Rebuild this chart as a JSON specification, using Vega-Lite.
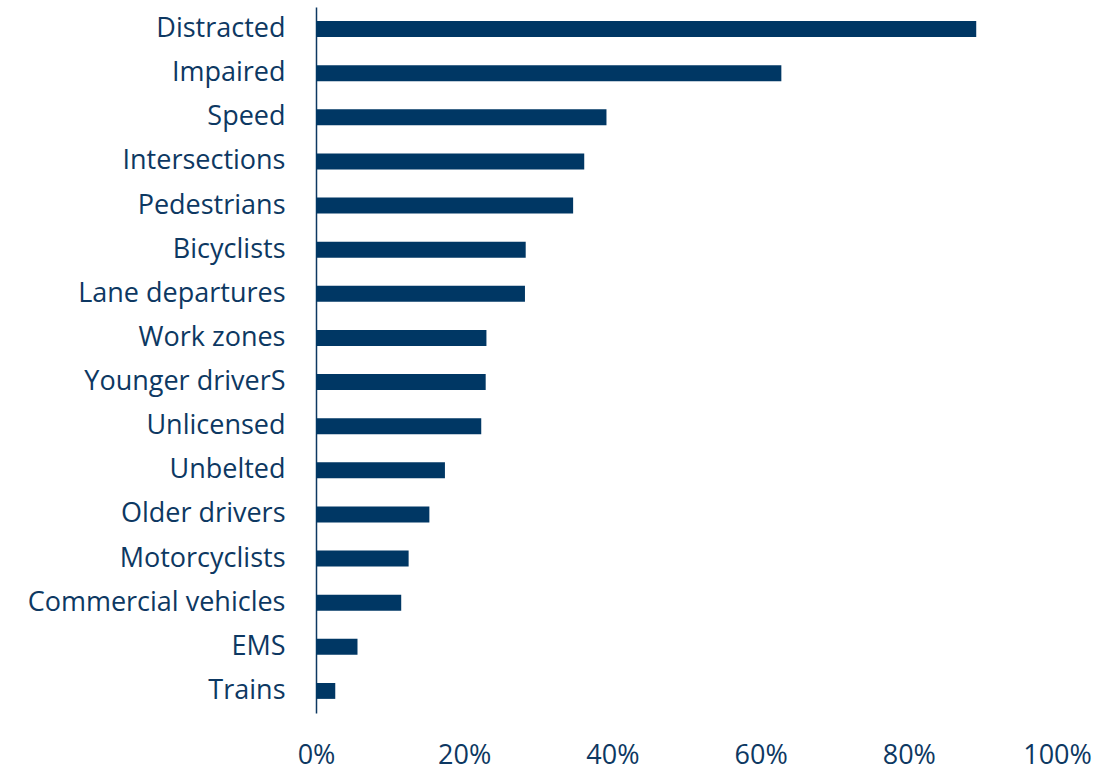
{
  "$schema": "https://vega.github.io/schema/vega-lite/v6.json",
  "width": 741,
  "height": 706,
  "autosize": {"type": "none"},
  "padding": {"left": 316, "top": 7, "right": 60, "bottom": 57},
  "background": "white",
  "config": {"view": {"stroke": null}},
  "data": {
    "values": [
      {"category": "Distracted", "share": 0.891},
      {"category": "Impaired", "share": 0.628},
      {"category": "Speed", "share": 0.392},
      {"category": "Intersections", "share": 0.362},
      {"category": "Pedestrians", "share": 0.347},
      {"category": "Bicyclists", "share": 0.283},
      {"category": "Lane departures", "share": 0.282},
      {"category": "Work zones", "share": 0.230},
      {"category": "Younger driverS", "share": 0.229},
      {"category": "Unlicensed", "share": 0.223},
      {"category": "Unbelted", "share": 0.174},
      {"category": "Older drivers", "share": 0.153},
      {"category": "Motorcyclists", "share": 0.125},
      {"category": "Commercial vehicles", "share": 0.115},
      {"category": "EMS", "share": 0.056},
      {"category": "Trains", "share": 0.026}
    ]
  },
  "mark": {"type": "bar", "color": "#003764"},
  "encoding": {
    "y": {
      "field": "category",
      "type": "nominal",
      "sort": null,
      "scale": {"paddingInner": 0.64, "paddingOuter": 0.32},
      "axis": {
        "title": null,
        "ticks": false,
        "domain": true,
        "domainColor": "#0d3862",
        "domainWidth": 1.5,
        "labelFont": "Open Sans",
        "labelFontSize": 27,
        "labelColor": "#0d3862",
        "labelPadding": 31,
        "labelLimit": 400
      }
    },
    "x": {
      "field": "share",
      "type": "quantitative",
      "scale": {"domain": [0, 1], "nice": false},
      "axis": {
        "title": null,
        "values": [0, 0.2, 0.4, 0.6, 0.8, 1],
        "format": ".0%",
        "ticks": false,
        "domain": false,
        "grid": false,
        "labelFont": "Open Sans",
        "labelFontSize": 27,
        "labelColor": "#0d3862",
        "labelBaseline": "alphabetic",
        "labelPadding": 50,
        "labelFlush": false,
        "labelOverlap": false
      }
    }
  }
}
